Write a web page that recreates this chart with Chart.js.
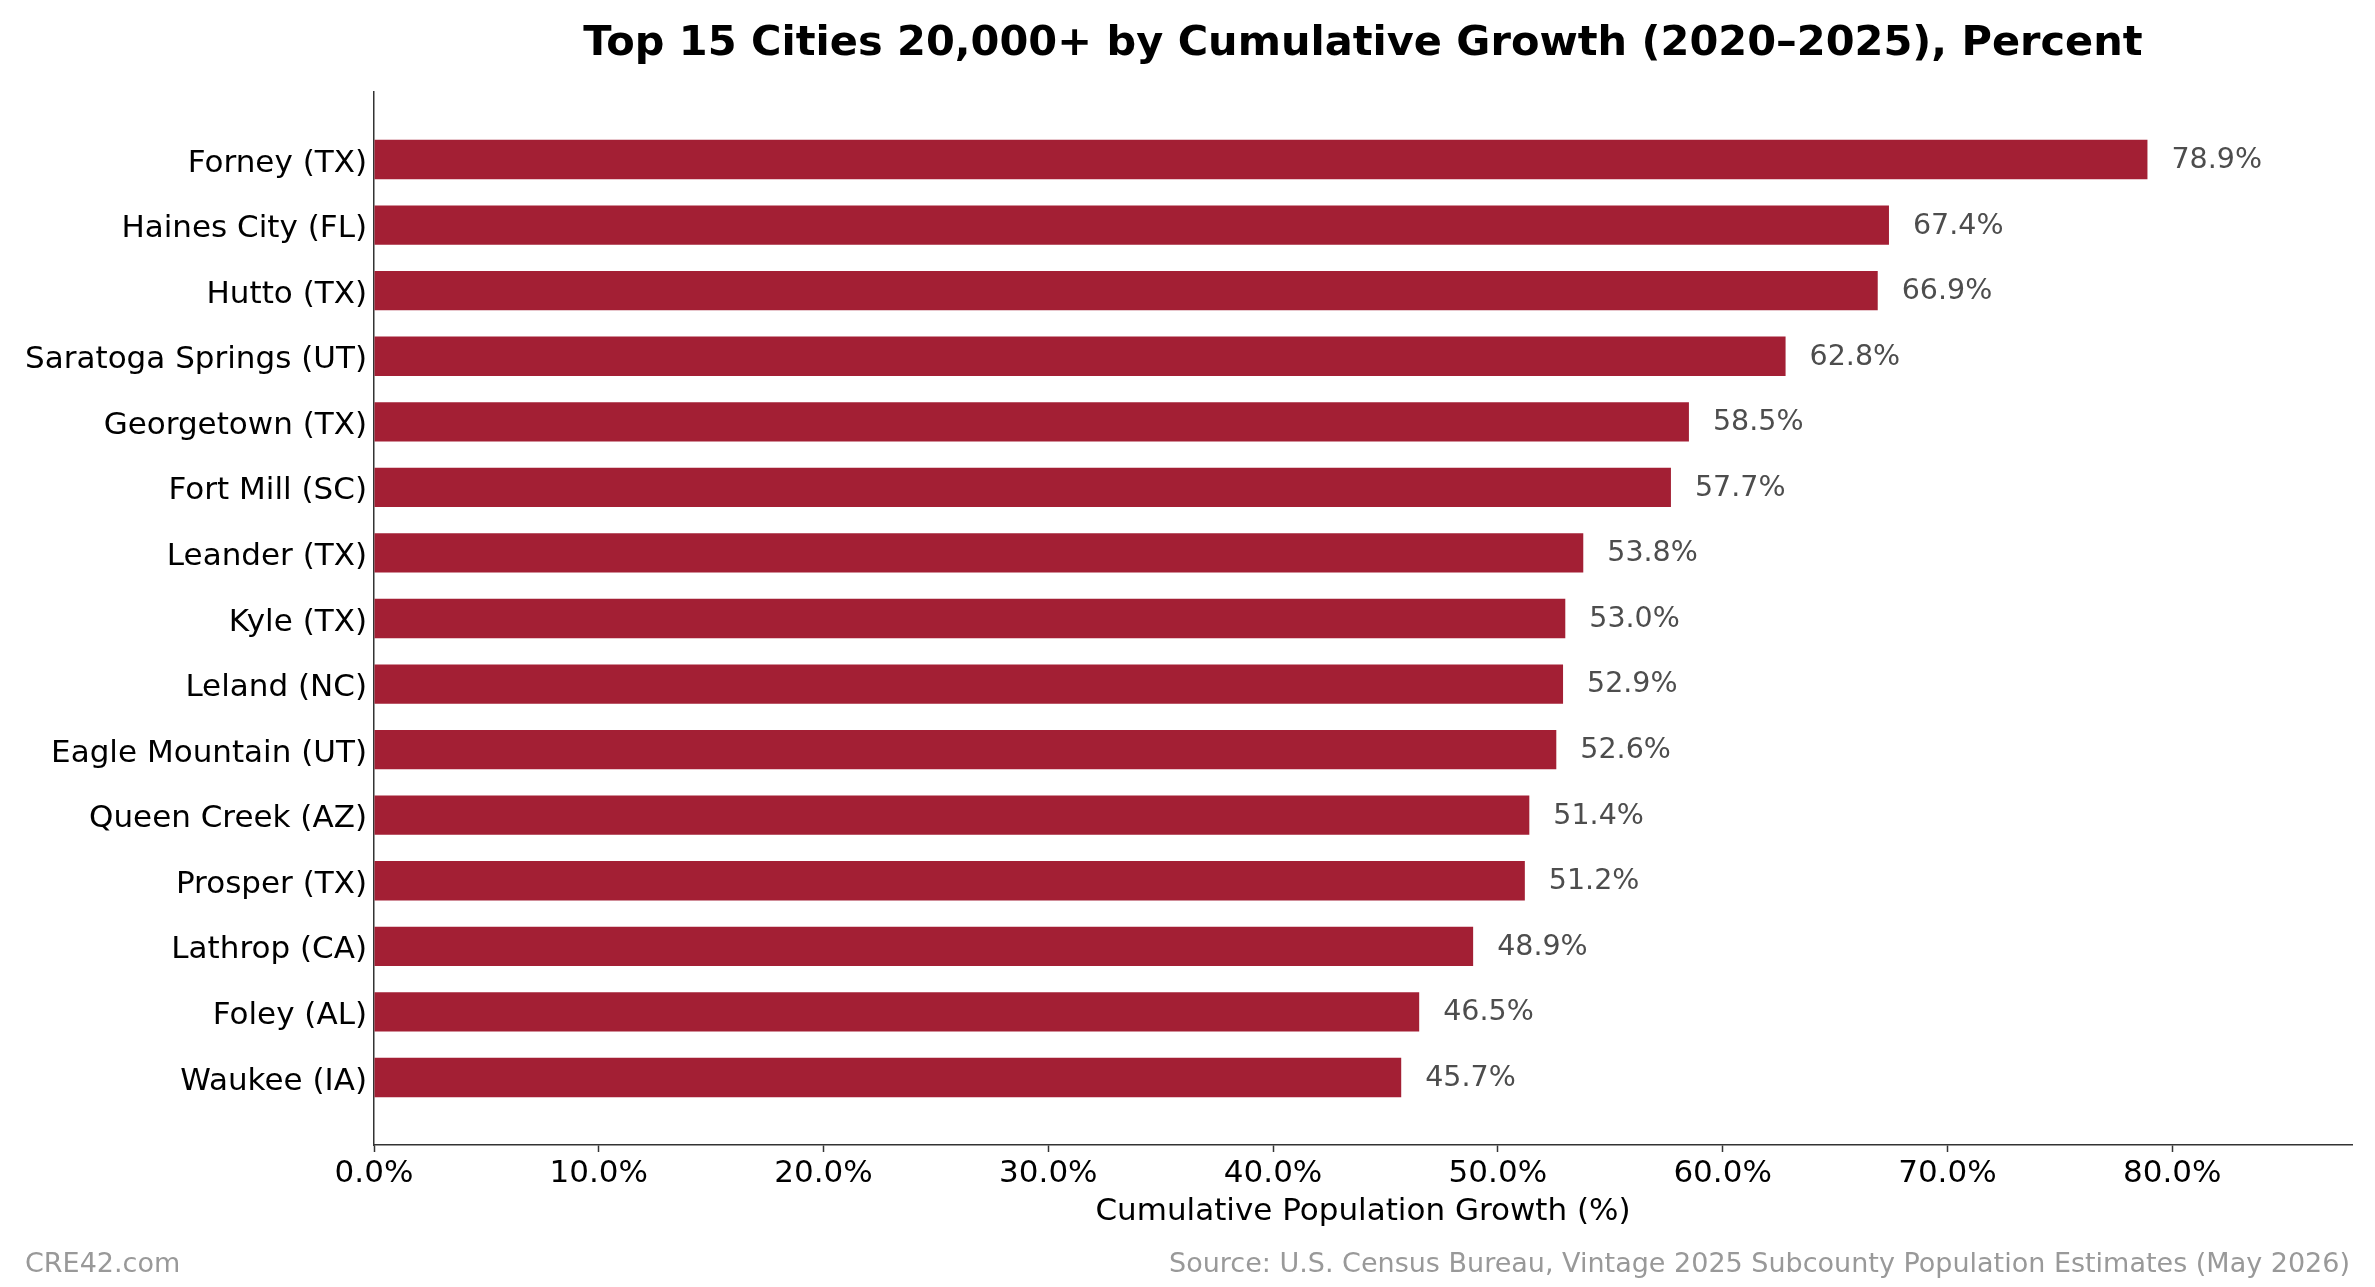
<!DOCTYPE html>
<html>
<head>
<meta charset="utf-8">
<title>Top 15 Cities by Cumulative Growth</title>
<script src="https://cdn.jsdelivr.net/npm/chart.js@4.4.1/dist/chart.umd.min.js"></script>
<style>
  html, body { margin: 0; padding: 0; background: #ffffff; }
  canvas { display: block; }
</style>
</head>
<body>
<canvas id="growthChart" width="2375" height="1287" style="width:2375px;height:1287px;"></canvas>
<script>
// data
const cities = [
    'Forney (TX)', 'Haines City (FL)', 'Hutto (TX)', 'Saratoga Springs (UT)',
    'Georgetown (TX)', 'Fort Mill (SC)', 'Leander (TX)', 'Kyle (TX)',
    'Leland (NC)', 'Eagle Mountain (UT)', 'Queen Creek (AZ)', 'Prosper (TX)',
    'Lathrop (CA)', 'Foley (AL)', 'Waukee (IA)'
];
const growth = [78.9, 67.4, 66.9, 62.8, 58.5, 57.7, 53.8, 53.0, 52.9, 52.6, 51.4, 51.2, 48.9, 46.5, 45.7];

const titleText = 'Top 15 Cities 20,000+ by Cumulative Growth (2020–2025), Percent';
const axisTitle = 'Cumulative Population Growth (%)';
const creditText = 'CRE42.com';
const sourceText = 'Source: U.S. Census Bureau, Vintage 2025 Subcounty Population Estimates (May 2026)';

const FONT = "'DejaVu Sans', 'Liberation Sans', sans-serif";
const barColor = '#a31f34';
const spineColor = '#333333';

Chart.defaults.font.family = FONT;

// bars are placed on a linear index axis so the matplotlib-style margins can be kept
const points = growth.map(function(v, i) { return { x: v, y: i }; });

// title, value labels and footer notes
const extrasPlugin = {
    id: 'extras',
    afterDatasetsDraw: function(chart) {
        const ctx = chart.ctx;
        const meta = chart.getDatasetMeta(0);
        ctx.save();
        ctx.font = '28.5px ' + FONT;
        ctx.fillStyle = '#4d4d4d';
        ctx.textAlign = 'left';
        ctx.textBaseline = 'middle';
        meta.data.forEach(function(bar, i) {
            ctx.fillText(growth[i].toFixed(1) + '%', bar.x + 24, bar.y + 1);
        });
        ctx.restore();
    },
    afterDraw: function(chart) {
        const ctx = chart.ctx;
        const area = chart.chartArea;
        ctx.save();
        ctx.fillStyle = '#000000';
        ctx.font = 'bold 41.5px ' + FONT;
        ctx.textAlign = 'center';
        ctx.textBaseline = 'alphabetic';
        ctx.fillText(titleText, (area.left + area.right) / 2, 55);

        ctx.fillStyle = '#999999';
        ctx.font = '27px ' + FONT;
        ctx.textAlign = 'left';
        ctx.fillText(creditText, 25, 1272);
        ctx.textAlign = 'right';
        ctx.fillText(sourceText, 2350, 1272);
        ctx.restore();
    }
};

const ctx = document.getElementById('growthChart').getContext('2d');
const growthChart = new Chart(ctx, {
    type: 'bar',
    data: {
        datasets: [{
            label: 'Cumulative Population Growth (%)',
            data: points,
            backgroundColor: barColor,
            borderWidth: 0,
            barPercentage: 0.6,
            categoryPercentage: 1.0
        }]
    },
    options: {
        indexAxis: 'y',
        responsive: false,
        devicePixelRatio: 1,
        animation: false,
        layout: { padding: { top: 92, right: 23, bottom: 0, left: 0 } },
        plugins: {
            legend: { display: false },
            tooltip: { enabled: false },
            title: { display: false }
        },
        scales: {
            x: {
                type: 'linear',
                position: 'bottom',
                min: 0,
                max: 88,
                grid: {
                    drawOnChartArea: false,
                    drawTicks: true,
                    tickLength: 7,
                    tickWidth: 1.5,
                    tickColor: spineColor
                },
                border: { display: true, color: spineColor, width: 1.5 },
                ticks: {
                    stepSize: 10,
                    includeBounds: false,
                    maxRotation: 0,
                    autoSkip: false,
                    padding: 3,
                    color: '#000000',
                    font: { size: 31 },
                    callback: function(v) { return Number(v).toFixed(1) + '%'; }
                },
                title: {
                    display: true,
                    text: axisTitle,
                    color: '#000000',
                    font: { size: 31 },
                    padding: { top: 0, bottom: 56 }
                },
                afterFit: function(scale) { scale.height = 142; }
            },
            y: {
                type: 'linear',
                position: 'left',
                reverse: true,
                offset: false,
                bounds: 'data',
                min: -1.03,
                max: 15.03,
                grid: { drawOnChartArea: false, drawTicks: false, offset: false },
                border: { display: true, color: spineColor, width: 1.5 },
                afterBuildTicks: function(scale) {
                    scale.ticks = cities.map(function(c, i) { return { value: i }; });
                },
                ticks: {
                    autoSkip: false,
                    padding: 7,
                    labelOffset: 4,
                    color: '#000000',
                    font: { size: 31 },
                    callback: function(v) { return cities[v] || ''; }
                },
                afterFit: function(scale) { scale.width = 374; }
            }
        }
    },
    plugins: [extrasPlugin]
});
</script>
</body>
</html>
